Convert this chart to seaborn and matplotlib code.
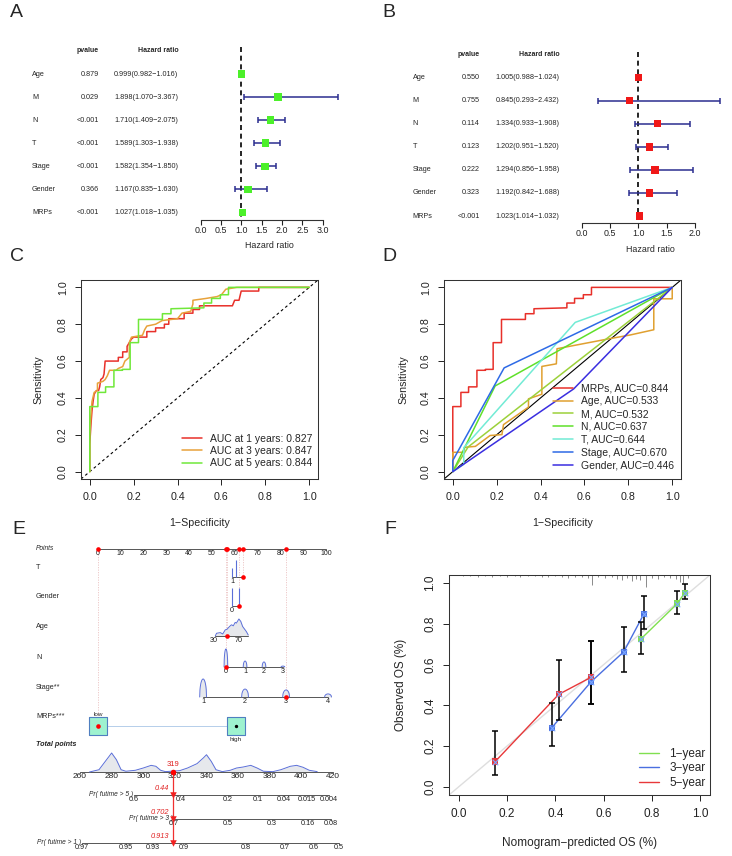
import numpy as np
import pandas as pd
import matplotlib
matplotlib.use("Agg")
import matplotlib.pyplot as plt
import matplotlib.transforms as mtrans
import seaborn as sns

W, H = 732, 856

# ---------------- A / B : forest plots ----------------
variables = ['Age', 'M', 'N', 'T', 'Stage', 'Gender', 'MRPs']
uni_pval = ['0.879', '0.029', '<0.001', '<0.001', '<0.001', '0.366', '<0.001']
uni_hr = [0.999, 1.898, 1.710, 1.589, 1.582, 1.167, 1.027]
uni_lo = [0.982, 1.070, 1.409, 1.303, 1.354, 0.835, 1.018]
uni_hi = [1.016, 3.367, 2.075, 1.938, 1.850, 1.630, 1.035]
multi_pval = ['0.550', '0.755', '0.114', '0.123', '0.222', '0.323', '<0.001']
multi_hr = [1.005, 0.845, 1.334, 1.202, 1.294, 1.192, 1.023]
multi_lo = [0.988, 0.293, 0.933, 0.951, 0.856, 0.842, 1.014]
multi_hi = [1.024, 2.432, 1.908, 1.520, 1.958, 1.688, 1.032]

# ---------------- C : time dependent ROC ----------------
roc_labels = ['AUC at 1 years: 0.827', 'AUC at 3 years: 0.847', 'AUC at 5 years: 0.844']
roc1_fpr = [0, 0, 0.005, 0.01, 0.015, 0.02, 0.03, 0.04, 0.045, 0.05, 0.06, 0.065, 0.07, 0.13, 0.13, 0.15,
            0.15, 0.17, 0.17, 0.19, 0.2, 0.26, 0.26, 0.3, 0.3, 0.34, 0.34, 0.36, 0.36, 0.43, 0.43, 0.47,
            0.47, 0.5, 0.5, 0.65, 0.66, 0.68, 0.69, 0.77, 0.77, 1.0]
roc1_tpr = [0, 0.15, 0.25, 0.33, 0.38, 0.42, 0.44, 0.44, 0.46, 0.5, 0.51, 0.53, 0.6, 0.6, 0.62, 0.62,
            0.65, 0.65, 0.68, 0.72, 0.73, 0.73, 0.76, 0.76, 0.78, 0.78, 0.8, 0.8, 0.83, 0.83, 0.86, 0.86,
            0.88, 0.88, 0.9, 0.9, 0.93, 0.93, 0.98, 0.98, 1.0, 1.0]
roc3_fpr = [0, 0, 0.005, 0.01, 0.02, 0.035, 0.035, 0.06, 0.07, 0.08, 0.09, 0.12, 0.13, 0.15, 0.16, 0.18,
            0.18, 0.19, 0.24, 0.25, 0.26, 0.3, 0.33, 0.4, 0.42, 0.46, 0.47, 0.47, 0.53, 0.58, 0.6, 0.62,
            0.67, 1.0]
roc3_tpr = [0, 0.2, 0.3, 0.38, 0.43, 0.44, 0.48, 0.49, 0.5, 0.52, 0.55, 0.55, 0.56, 0.57, 0.6, 0.62,
            0.7, 0.73, 0.74, 0.77, 0.79, 0.8, 0.82, 0.83, 0.86, 0.87, 0.91, 0.93, 0.94, 0.95, 0.96, 0.99,
            1.0, 1.0]
# 5-year curve = MRPs curve of panel D
mrps_fpr = [0, 0, 0.037, 0.037, 0.072, 0.072, 0.11, 0.11, 0.149, 0.149, 0.184, 0.184, 0.222, 0.222,
            0.331, 0.331, 0.37, 0.37, 0.52, 0.52, 0.555, 0.555, 0.595, 0.595, 0.632, 0.632, 1.0]
mrps_tpr = [0, 0.353, 0.353, 0.43, 0.43, 0.46, 0.46, 0.55, 0.55, 0.555, 0.555, 0.70, 0.70, 0.826,
            0.826, 0.857, 0.857, 0.884, 0.889, 0.915, 0.915, 0.94, 0.94, 0.96, 0.96, 1.0, 1.0]

# ---------------- D : ROC of clinical features ----------------
feat_labels = ['MRPs, AUC=0.844', 'Age, AUC=0.533', 'M, AUC=0.532', 'N, AUC=0.637',
               'T, AUC=0.644', 'Stage, AUC=0.670', 'Gender, AUC=0.446']
age_fpr = [0, 0, 0.049, 0.054, 0.103, 0.17, 0.224, 0.231, 0.345, 0.345, 0.406, 0.406, 0.472, 0.475,
           0.703, 0.81, 0.916, 0.916, 1.0, 1.0]
age_tpr = [0, 0.105, 0.105, 0.132, 0.137, 0.196, 0.201, 0.255, 0.35, 0.395, 0.42, 0.571, 0.585, 0.667,
           0.719, 0.742, 0.77, 0.938, 0.938, 1.0]
m_fpr = [0, 0.07, 1.0]
m_tpr = [0, 0.134, 1.0]
n_fpr = [0, 0.193, 1.0]
n_tpr = [0, 0.465, 1.0]
t_fpr = [0, 0.05, 0.05, 0.558, 1.0]
t_tpr = [0, 0.04, 0.13, 0.81, 1.0]
stage_fpr = [0, 0, 0.234, 1.0]
stage_tpr = [0, 0.06, 0.563, 1.0]
gender_fpr = [0, 0.551, 1.0]
gender_tpr = [0, 0.449, 1.0]

# ---------------- E : nomogram ----------------
pts_ticks = list(range(0, 101, 10))
t_levels = ['1', '2', '3', '4']
t_points = [58.9, 60.4, 61.9, 63.5]
t_freq = [0.5, 0.95, 0.0, 0.0]
gender_levels = ['0', '1']
gender_points = [58.8, 61.8]
gender_freq = [1.0, 1.0]
age_ticks = [30, 70]
age_tick_points = [50.9, 61.8]
age_grid = [32, 34, 40, 44, 48, 51, 55, 58, 61, 64, 66, 70, 73, 76, 80, 82, 85]
age_dens = [0, 0.16, 0.2, 0.12, 0.36, 0.4, 0.56, 0.66, 0.6, 0.8, 0.76, 1.0, 0.86, 0.56, 0.36, 0.26, 0.06]
n_levels = ['0', '1', '2', '3']
n_points = [56.1, 64.5, 72.8, 81.1]
n_freq = [1.0, 0.33, 0.28, 0.05]
stage_levels = ['1', '2', '3', '4']
stage_points = [46.1, 64.5, 82.5, 100.9]
stage_freq = [1.0, 0.44, 0.39, 0.17]
mrps_levels = ['low', 'high']
mrps_points = [0, 60.5]
patient = {'T': '4', 'Gender': '1', 'Age': 51, 'N': '0', 'Stage': '3', 'MRPs': 'low'}
total_ticks = list(range(260, 421, 20))
total_grid = [266, 272, 276, 280, 283, 286, 289, 295, 300, 305, 308, 311, 314, 323, 328, 334, 338, 340,
              343, 346, 350, 355, 359, 363, 368, 372, 376, 382, 387, 393, 397, 401, 405, 410]
total_dens = [0, 0.12, 0.56, 1.0, 0.65, 0.12, 0.04, 0.09, 0.21, 0.35, 0.3, 0.09, 0.02, 0.07, 0.21, 0.44,
              0.74, 0.91, 0.56, 0.12, 0.02, 0.09, 0.21, 0.26, 0.35, 0.21, 0.04, 0.02, 0.12, 0.3, 0.35,
              0.25, 0.09, 0.02]
patient_total = 319
surv_names = ['Pr( futime > 5 )', 'Pr( futime > 3 )', 'Pr( futime > 1 )']
surv_tick_labels = [['0.6', '0.4', '0.2', '0.1', '0.04', '0.015', '0.004'],
                    ['0.7', '0.5', '0.3', '0.16', '0.08'],
                    ['0.97', '0.95', '0.93', '0.9', '0.8', '0.7', '0.6', '0.5']]
surv_tick_total = [[294.3, 323.5, 353.3, 372.4, 388.9, 403.5, 417.5],
                   [319.2, 353.3, 381.3, 404.1, 418.7],
                   [261.3, 289.2, 306.3, 325.4, 364.8, 389.5, 407.9, 423.8]]
patient_surv = ['0.44', '0.702', '0.913']

# ---------------- F : calibration ----------------
cal_labels = ['1\u2212year', '3\u2212year', '5\u2212year']
cal1_pred = [0.755, 0.905, 0.935]
cal1_obs = [0.727, 0.900, 0.952]
cal1_lo = [0.652, 0.848, 0.920]
cal1_hi = [0.810, 0.960, 0.995]
cal3_pred = [0.385, 0.548, 0.683, 0.766]
cal3_obs = [0.290, 0.516, 0.663, 0.848]
cal3_lo = [0.200, 0.405, 0.565, 0.773]
cal3_hi = [0.413, 0.715, 0.785, 0.936]
cal5_pred = [0.151, 0.414, 0.548]
cal5_obs = [0.124, 0.454, 0.538]
cal5_lo = [0.058, 0.328, 0.405]
cal5_hi = [0.276, 0.622, 0.715]
rug_pred = [0.017, 0.046, 0.079, 0.108, 0.137, 0.170, 0.199, 0.232, 0.253, 0.286, 0.315, 0.344, 0.369,
            0.398, 0.427, 0.452, 0.481, 0.510, 0.535, 0.552, 0.577, 0.606, 0.635, 0.656, 0.676, 0.697,
            0.718, 0.734, 0.751, 0.776, 0.801, 0.826, 0.851, 0.876, 0.900, 0.917, 0.929, 0.950]
rug_count = [1, 1, 2, 1, 2, 1, 2, 1, 2, 1, 1, 2, 2, 1, 2, 3, 2, 2, 3, 10, 2, 3, 2, 4, 5, 3, 6, 4, 5, 12,
             3, 4, 2, 3, 4, 7, 8, 3]

sns.set_style('ticks')
plt.rcParams['font.family'] = ['Liberation Sans', 'DejaVu Sans']
plt.rcParams['axes.unicode_minus'] = True

fig = plt.figure(figsize=(W / 100, H / 100), dpi=100)


def rect(l, t, r, b):
    return [l / W, 1 - b / H, (r - l) / W, (b - t) / H]


for lab, x, y in [('A', 10, 8), ('B', 382, 8), ('C', 10, 252), ('D', 382, 252), ('E', 12, 525), ('F', 384, 525)]:
    fig.text(x / W, 1 - (y - 4) / H, lab, fontsize=14, ha='left', va='top')


def forest(pval, hr, lo, hi, color, ticks, box, x0, unit, row0, dash, cols, xlab_y):
    left, top, right, bottom = box
    ax = fig.add_axes(rect(*box))
    step = 23.05
    ax.set_xlim((left - x0) / unit, (right - x0) / unit)
    ax.set_ylim((bottom - row0) / step, (top - row0) / step)
    df = pd.DataFrame({'var': variables, 'hr': hr, 'lo': lo, 'hi': hi, 'y': np.arange(len(variables))})
    ax.plot([1, 1], [(dash[0] - row0) / step, (dash[1] - row0) / step], color='black', lw=1.2,
            ls=(0, (3, 2.2)), zorder=1)
    ax.errorbar(df['hr'], df['y'], xerr=[df['hr'] - df['lo'], df['hi'] - df['hr']], fmt='none',
                ecolor='#2b2d8f', elinewidth=1.1, capsize=2, capthick=1.1, zorder=2)
    sns.scatterplot(data=df, x='hr', y='y', marker='s', color=color, s=28, edgecolor='none',
                    ax=ax, zorder=3, legend=False)
    tr = mtrans.blended_transform_factory(fig.transFigure, ax.transData)
    name_x, p_x, hr_x = cols
    ax.text(p_x / W, -1, 'pvalue', transform=tr, ha='right', va='center', fontsize=5, fontweight='bold')
    ax.text(hr_x / W, -1, 'Hazard ratio', transform=tr, ha='right', va='center', fontsize=5,
            fontweight='bold')
    for i, row in df.iterrows():
        ax.text(name_x / W, i, row['var'], transform=tr, ha='left', va='center', fontsize=5.2)
        ax.text(p_x / W, i, pval[i], transform=tr, ha='right', va='center', fontsize=5.2)
        ax.text(hr_x / W, i, f"{row['hr']:.3f}({row['lo']:.3f}\u2212{row['hi']:.3f})", transform=tr,
                ha='right', va='center', fontsize=5.2)
    for s in ['left', 'top', 'right']:
        ax.spines[s].set_visible(False)
    ax.spines['bottom'].set_bounds(ticks[0], ticks[-1])
    ax.spines['bottom'].set_linewidth(0.8)
    ax.spines['bottom'].set_color('#333333')
    ax.set_xticks(ticks)
    ax.set_xticklabels([f'{t:.1f}' for t in ticks], fontsize=6.4)
    ax.set_yticks([])
    ax.tick_params(axis='x', length=3.6, width=0.8, pad=0.8, colors='#222222')
    ax.set_xlabel('')
    ax.set_ylabel('')
    ax.text(max(hi) / 2, 1 - xlab_y / H, 'Hazard ratio', fontsize=6.4, ha='center', va='center',
            transform=mtrans.blended_transform_factory(ax.transData, fig.transFigure))


forest(uni_pval, uni_hr, uni_lo, uni_hi, '#4cf02a', [0, 0.5, 1, 1.5, 2, 2.5, 3],
       (190, 44, 345, 220), 200.7, 40.67, 74, (46.7, 216.7), (32, 98.5, 178.5), 246)
forest(multi_pval, multi_hr, multi_lo, multi_hi, '#f01818', [0, 0.5, 1, 1.5, 2],
       (565, 48, 725, 222.7), 581.7, 56.67, 77.7, (51.7, 218.3), (412.7, 479.5, 559.5), 249.3)


def roc_frame(box, ylab_x, xlab_y, xlab, ylab, fs=7.7):
    left, top, right, bottom = box
    ax = fig.add_axes(rect(*box))
    ax.set_xlim(-0.04, 1.04)
    ax.set_ylim(-0.04, 1.04)
    ticks = [0.0, 0.2, 0.4, 0.6, 0.8, 1.0]
    ax.set_xticks(ticks)
    ax.set_yticks(ticks)
    ax.set_xticklabels([f'{v:.1f}' for v in ticks], fontsize=fs)
    ax.set_yticklabels([f'{v:.1f}' for v in ticks], fontsize=fs, rotation=90, va='center')
    ax.tick_params(direction='out', length=4.3, width=0.7, pad=5, colors='#222222')
    for s in ax.spines.values():
        s.set_visible(True)
        s.set_linewidth(0.75)
        s.set_color('#333333')
    ax.set_xlabel('')
    ax.set_ylabel('')
    fig.text((left + right) / 2 / W, 1 - xlab_y / H, xlab, fontsize=fs, ha='center', va='center')
    fig.text(ylab_x / W, 1 - (top + bottom) / 2 / H, ylab, fontsize=fs, ha='center', va='center',
             rotation=90)
    return ax


def curve(ax, x, y, color, label, lw=1.1):
    sns.lineplot(x=x, y=y, sort=False, estimator=None, color=color, lw=lw, ax=ax, label=label)


# ---- C
axc = roc_frame((81, 280, 318, 479), 38, 522.5, '1\u2212Specificity', 'Sensitivity')
axc.plot([-0.04, 1.04], [-0.04, 1.04], color='black', lw=0.8, ls=(0, (2.5, 2.5)))
curve(axc, roc1_fpr, roc1_tpr, '#e8302a', roc_labels[0])
curve(axc, roc3_fpr, roc3_tpr, '#e8a23b', roc_labels[1])
curve(axc, mrps_fpr, mrps_tpr, '#70e83a', roc_labels[2])
axc.legend(loc='upper left', bbox_to_anchor=((182 - 81) / 237, (479 - 433.5) / 199), frameon=False,
           fontsize=7.5, handlelength=1.9, handletextpad=0.8, labelspacing=0.23, borderpad=0,
           borderaxespad=0)

# ---- D
axd = roc_frame((444, 280, 681, 479), 403, 522.5, '1\u2212Specificity', 'Sensitivity')
axd.plot([-0.04, 1.04], [-0.04, 1.04], color='black', lw=0.8)
feat_curves = [(mrps_fpr, mrps_tpr, '#e8302a'), (age_fpr, age_tpr, '#e0a030'), (m_fpr, m_tpr, '#9cd13a'),
               (n_fpr, n_tpr, '#5fe02a'), (t_fpr, t_tpr, '#72ebd5'), (stage_fpr, stage_tpr, '#2e6ae6'),
               (gender_fpr, gender_tpr, '#3a2ee0')]
for (fx, fy, col), lab in zip(feat_curves, feat_labels):
    curve(axd, fx, fy, col, lab)
axd.legend(loc='upper left', bbox_to_anchor=((553 - 444) / 237, (479 - 383.5) / 199), frameon=False,
           fontsize=7.5, handlelength=1.9, handletextpad=0.8, labelspacing=0.27, borderpad=0,
           borderaxespad=0)

# ---- E nomogram
def px2pt(px):
    return (px - 98) / 2.28


TP_X0, TP_X1 = px2pt(80), px2pt(333)


def tp2x(t):
    return TP_X0 + (np.asarray(t, dtype=float) - total_ticks[0]) * (TP_X1 - TP_X0) / (total_ticks[-1] - total_ticks[0])


def age2x(a):
    return age_tick_points[0] + (np.asarray(a, dtype=float) - age_ticks[0]) * \
        (age_tick_points[1] - age_tick_points[0]) / (age_ticks[1] - age_ticks[0])


axe = fig.add_axes(rect(0, 530, 370, 856))
axe.set_xlim(px2pt(0), px2pt(370))
axe.set_ylim(856, 530)
axe.axis('off')

AXC = '#555555'
BLUE = '#5b6fd8'
FILL = '#e6e8ec'
GUIDE = '#ebc3c3'
LAB_X = px2pt(36)
rows = {'Points': 549, 'T': 577, 'Gender': 606, 'Age': 636, 'N': 667, 'Stage': 697, 'MRPs': 726,
        'Total': 772}
row_names = {'T': 'T', 'Gender': 'Gender', 'Age': 'Age', 'N': 'N', 'Stage': 'Stage**', 'MRPs': 'MRPs***'}
fs_e = 5.2


def axis_line(x0, x1, y):
    axe.plot([x0, x1], [y, y], color=AXC, lw=0.7, zorder=2)


def tick_labels(xs, labels, y, fs=fs_e):
    for x, l in zip(xs, labels):
        if l:
            axe.text(x, y + 1.3, l, ha='center', va='top', fontsize=fs, color='#222222')


def bump(c, h, y, hw):
    u = np.linspace(-1, 1, 25)
    xs = c + hw * u
    ys = y - h * np.sqrt(1 - u ** 2)
    axe.fill_between(xs, ys, y, color=FILL, lw=0, zorder=1)
    axe.plot(xs, ys, color=BLUE, lw=0.7, zorder=2)


sel = {
    'T': t_points[t_levels.index(patient['T'])],
    'Gender': gender_points[gender_levels.index(patient['Gender'])],
    'Age': float(age2x(patient['Age'])),
    'N': n_points[n_levels.index(patient['N'])],
    'Stage': stage_points[stage_levels.index(patient['Stage'])],
    'MRPs': mrps_points[mrps_levels.index(patient['MRPs'])],
}

# guide lines from the points scale
for k, v in sel.items():
    axe.vlines(v, rows['Points'], rows[k], colors=GUIDE, lw=0.6, linestyles=(0, (1.5, 1.5)), zorder=0)

# Points axis
axis_line(0, 100, rows['Points'])
axe.vlines(pts_ticks, rows['Points'], rows['Points'] + 1.5, colors=AXC, lw=0.5)
tick_labels(pts_ticks, [str(t) for t in pts_ticks], rows['Points'], fs=5)
axe.text(LAB_X, 548, 'Points', ha='left', va='center', fontsize=4.8, style='italic')
axe.scatter(list(sel.values()), [rows['Points']] * len(sel), s=11, color='red', zorder=5, lw=0)

for k in ['T', 'Gender', 'Age', 'N', 'Stage', 'MRPs']:
    axe.text(LAB_X, rows[k] - 9.5, row_names[k], ha='left', va='center', fontsize=fs_e)

# T
y = rows['T']
axis_line(t_points[0], t_points[-1], y)
axe.vlines([p for p, f in zip(t_points, t_freq) if f > 0], y - np.array([f * 18 for f in t_freq if f > 0]), y,
           colors=BLUE, lw=0.8)
tick_labels(t_points[:1], t_levels[:1], y)
# Gender
y = rows['Gender']
axis_line(gender_points[0], gender_points[-1], y)
axe.vlines(gender_points, y - np.array(gender_freq) * 18, y, colors=BLUE, lw=0.8)
tick_labels(gender_points[:1], gender_levels[:1], y)
# Age
y = rows['Age']
ax_age = age2x(age_grid)
axis_line(ax_age[0], ax_age[-1], y)
axe.fill_between(ax_age, y - np.array(age_dens) * 17, y, color=FILL, lw=0, zorder=1)
axe.plot(ax_age, y - np.array(age_dens) * 17, color=BLUE, lw=0.7, zorder=2)
tick_labels(age_tick_points, [str(a) for a in age_ticks], y)
# N
y = rows['N']
axis_line(n_points[0], n_points[-1], y)
for p, f in zip(n_points, n_freq):
    bump(p, f * 18, y, 0.8)
tick_labels(n_points, n_levels, y)
# Stage
y = rows['Stage']
axis_line(stage_points[0], stage_points[-1], y)
for p, f in zip(stage_points, stage_freq):
    bump(p, f * 18, y, 1.5)
tick_labels(stage_points, stage_levels, y)
# MRPs
y = rows['MRPs']
axe.plot([mrps_points[0] + px2pt(107) - px2pt(98), mrps_points[1] - (px2pt(107) - px2pt(98))], [y, y],
         color='#a9c6e6', lw=0.6, zorder=1)
axe.scatter(mrps_points, [y, y], marker='s', s=170, facecolor='#9ef2cf', edgecolor='#4f7fc0', lw=0.8,
            zorder=2)
axe.text(mrps_points[0], y - 12, mrps_levels[0], ha='center', va='center', fontsize=4.6)
axe.text(mrps_points[1], y + 13, mrps_levels[1], ha='center', va='center', fontsize=4.6)
axe.scatter([mrps_points[1]], [y], s=2, color='black', zorder=4)

# patient values on each row
for k, v in sel.items():
    axe.scatter([v], [rows[k]], s=11, color='red', zorder=5, lw=0)

# Total points
y = rows['Total']
axe.text(LAB_X, 744, 'Total points', ha='left', va='center', fontsize=5.2, style='italic', fontweight='bold')
axis_line(tp2x(total_ticks[0]), tp2x(total_ticks[-1]), y)
axe.vlines(tp2x(total_ticks), y, y + 1.5, colors=AXC, lw=0.5)
tick_labels(tp2x(total_ticks), [str(t) for t in total_ticks], y, fs=6)
tx = tp2x(total_grid)
axe.fill_between(tx, y - np.array(total_dens) * 19, y, color=FILL, lw=0, zorder=1)
axe.plot(tx, y - np.array(total_dens) * 19, color=BLUE, lw=0.7, zorder=2)
xs_tot = float(tp2x(patient_total))
axe.scatter([xs_tot], [y], s=16, color='red', zorder=6, lw=0)
axe.text(xs_tot, y - 7, str(patient_total), ha='center', va='center', fontsize=5.5, color='#e02020')

# survival probability scales
surv_rows = [795, 819, 843]
axe.plot([xs_tot, xs_tot], [y, surv_rows[-1]], color='#f03030', lw=0.9, zorder=4)
for name, labs, tps, ry, pv in zip(surv_names, surv_tick_labels, surv_tick_total, surv_rows, patient_surv):
    x0, x1 = tp2x(tps[0]), tp2x(tps[-1])
    axis_line(x0, x1, ry)
    axe.vlines(tp2x(tps), ry, ry + 1.5, colors=AXC, lw=0.5)
    tick_labels(tp2x(tps), labs, ry)
    axe.text(x0 - 0.4, ry - 0.5, name, ha='right', va='center', fontsize=4.8, style='italic')
    axe.scatter([xs_tot], [ry], marker='v', s=22, color='#f02020', zorder=6, lw=0)
    axe.text(xs_tot - 2.0, ry - 6, pv, ha='right', va='center', fontsize=5.3, style='italic',
             color='#e02020')

# ---- F calibration
axf = roc_frame((449, 575, 710, 795), 401, 843, 'Nomogram\u2212predicted OS (%)', 'Observed OS (%)', fs=8.5)
axf.plot([-0.04, 1.04], [-0.04, 1.04], color='#dedede', lw=1.0, zorder=0)
axf.vlines(rug_pred, 1.04 - np.array(rug_count) / 204, 1.04, colors='#777777', lw=0.6)
cal_sets = [(cal1_pred, cal1_obs, cal1_lo, cal1_hi, '#80e050'),
            (cal3_pred, cal3_obs, cal3_lo, cal3_hi, '#4a6fe0'),
            (cal5_pred, cal5_obs, cal5_lo, cal5_hi, '#e8383a')]
for (xp, yo, lo, hi, col), lab in zip(cal_sets, cal_labels):
    curve(axf, xp, yo, col, lab, lw=1.0)
for xp, yo, lo, hi, col in cal_sets:
    yo_a = np.array(yo)
    axf.errorbar(xp, yo, yerr=[yo_a - np.array(lo), np.array(hi) - yo_a], fmt='none', ecolor='black',
                 elinewidth=1.1, capsize=2.3, capthick=1.1, zorder=3)
    sns.scatterplot(x=xp, y=yo, marker='s', color=col, s=20, edgecolor='none', ax=axf, zorder=4,
                    legend=False)
    axf.scatter(xp, yo, marker='x', color='#7aa8ff', s=16, lw=0.8, zorder=5)
axf.legend(loc='upper left', bbox_to_anchor=((639 - 449) / 261, (795 - 748) / 220), frameon=False,
           fontsize=8.5, handlelength=1.7, handletextpad=0.85, labelspacing=0.2, borderpad=0,
           borderaxespad=0)

fig.savefig('out.png', dpi=100)
